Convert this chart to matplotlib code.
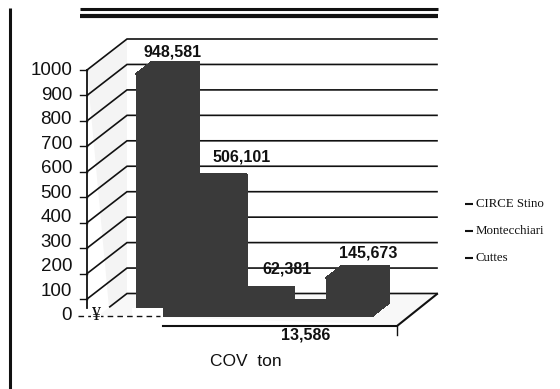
import matplotlib
matplotlib.use("Agg")
import matplotlib.pyplot as plt
from matplotlib.patches import Polygon, Rectangle

# Values of the chart
bar_values = [948.581, 506.101, 62.381, 13.586, 145.673]
bar_labels = ["948,581", "506,101", "62,381", "13,586", "145,673"]
label_x = [173, 242, 287, 306, 368]
label_y = [52, 157, 269, 335, 253]
tick_values = [0, 100, 200, 300, 400, 500, 600, 700, 800, 900, 1000]
legend_names = ["CIRCE Stino", "Montecchiari", "Cuttes"]
axis_title = "COV  ton"

# Scale of the picture
PX_X = 47.4      # pixels per category
PX_V = 0.2545    # pixels per value unit
X0 = 124.3       # pixel of category 0
Y0 = 324.5       # pixel of value 0
DEPTH_X = 40.0
DEPTH_Y = 31.0
INK = "#111111"
BAR = "#3a3a3a"


def proj(x, v, d=0.0):
    # oblique projection: depth d goes from 0 (front) to 1 (back wall)
    return x + d * DEPTH_X / PX_X, v + d * DEPTH_Y / PX_V


def px(x_pixel, y_pixel):
    # data position of an annotation given on the picture
    return (x_pixel - X0) / PX_X, (Y0 - y_pixel) / PX_V


fig = plt.figure(figsize=(5.6, 3.89), dpi=100)
ax = fig.add_axes([0, 0, 1, 1])
ax.set_xlim(-X0 / PX_X, (560 - X0) / PX_X)
ax.set_ylim((Y0 - 389) / PX_V, Y0 / PX_V)
ax.axis("off")

x_left = px(87, 0)[0]
x_right = px(397, 0)[0]

# Faint walls
wall = [proj(x_left, 0, 0.55), proj(x_left, 1000), proj(x_left, 1000, 1), proj(x_left, 0, 1)]
ax.add_patch(Polygon(wall, closed=True, fc="#f4f4f4", ec="none", zorder=1))
floor = [proj(x_left, 0, 0.3), proj(x_right, 0), proj(x_right, 0, 1), proj(x_left, 0, 1)]
ax.add_patch(Polygon(floor, closed=True, fc="#f8f8f8", ec="none", zorder=1))

# Grid lines, left wall then back wall
for v in tick_values:
    d_start = 0.57 if v == 0 else 0.0
    pts = [proj(x_left, v, d_start), proj(x_left, v, 1), proj(x_right, v, 1)]
    ax.plot([p[0] for p in pts], [p[1] for p in pts], color=INK, lw=1.2, zorder=2,
            solid_joinstyle="miter")
    if v > 0:
        tick = proj(x_left, v)
        ax.plot([tick[0] - 7 / PX_X, tick[0]], [tick[1], tick[1]], color=INK, lw=1.0, zorder=2)
    # labels run slightly tighter than the ticks in the scan
    lx, ly = px(72, 316 - 0.2455 * v)
    ax.text(lx, ly, str(v), ha="right", va="center", fontsize=13.5, color=INK,
            family="Liberation Sans", zorder=5)

# Front axis
ax.plot([x_left, x_left], [px(0, 308)[1], 1000], color=INK, lw=1.3, zorder=3)

# Bars
d_front, d_back = 0.29, 0.69
for i, val in enumerate(bar_values):
    x1, x2 = i, i + 1
    front = [proj(x1, 0, d_front), proj(x2, 0, d_front), proj(x2, val, d_front), proj(x1, val, d_front)]
    top = [proj(x1, val, d_front), proj(x2, val, d_front), proj(x2, val, d_back), proj(x1, val, d_back)]
    side = [proj(x2, 0, d_front), proj(x2, 0, d_back), proj(x2, val, d_back), proj(x2, val, d_front)]
    for poly in (front, top, side):
        ax.add_patch(Polygon(poly, closed=True, fc=BAR, ec=BAR, lw=0.6, zorder=4, antialiased=False))

# White notch at the foot of the first bar
a = px(132, 318)
b = px(163, 307.5)
ax.add_patch(Rectangle(a, b[0] - a[0], b[1] - a[1], fc="white", ec="none", zorder=4.5))

# Floor edges
a = px(163, 326)
b = px(397, 326)
c = px(437, 294)
d = px(397, 335)
ax.plot([a[0], b[0], c[0]], [a[1], b[1], c[1]], color=INK, lw=1.5, zorder=3)
ax.plot([b[0], d[0]], [b[1], d[1]], color=INK, lw=1.0, zorder=3)
a = px(78, 316)
b = px(160, 316)
ax.plot([a[0], b[0]], [a[1], b[1]], color=INK, lw=1.0, ls=(0, (4, 3)), zorder=4.6)
p = px(96, 315)
ax.text(p[0], p[1], "¥", ha="center", va="center", fontsize=13, color=INK,
        family="Liberation Serif", bbox=dict(fc="white", ec="none", pad=0.5), zorder=5)

# Double rule on top and frame on the left
for y_pixel, lw in [(9, 2.2), (16, 3.0)]:
    a = px(80, y_pixel)
    b = px(438, y_pixel)
    ax.plot([a[0], b[0]], [a[1], b[1]], color=INK, lw=lw, zorder=3, solid_capstyle="butt")
a = px(10, 8)
b = px(10, 389)
ax.plot([a[0], b[0]], [a[1], b[1]], color=INK, lw=2.2, zorder=3, solid_capstyle="butt")

# Data labels
for name, lx_px, ly_px in zip(bar_labels, label_x, label_y):
    p = px(lx_px, ly_px)
    ax.text(p[0], p[1], name, ha="center", va="center", fontsize=11.5, fontweight="bold",
            color=INK, family="Liberation Sans", zorder=6)

p = px(246, 362)
ax.text(p[0], p[1], axis_title, ha="center", va="center", fontsize=12.5, color=INK,
        family="Liberation Sans", zorder=6)

# Legend
for name, y_pixel in zip(legend_names, [204, 231, 258]):
    a = px(465, y_pixel)
    b = px(473, y_pixel)
    ax.plot([a[0], b[0]], [a[1], b[1]], color=INK, lw=1.5, zorder=3, solid_capstyle="butt")
    p = px(476, y_pixel)
    ax.text(p[0], p[1], name, ha="left", va="center", fontsize=9.3, color=INK,
            family="Liberation Serif", zorder=6)

fig.savefig("out.png", dpi=100)
